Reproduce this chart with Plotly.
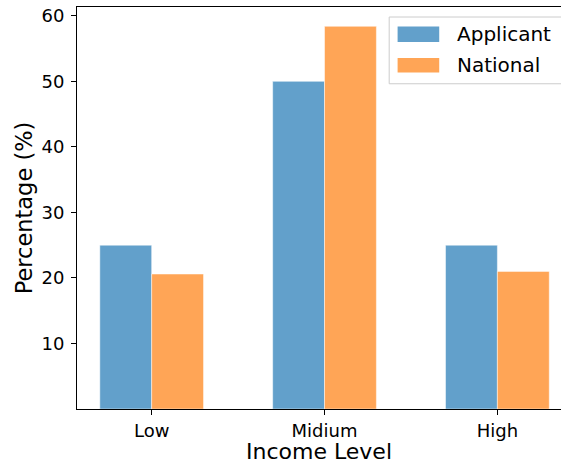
import plotly.graph_objects as go

categories = ["Low", "Midium", "High"]
applicant = [25.0, 50.0, 25.0]
national = [20.6, 58.4, 21.0]
series_names = ["Applicant", "National"]
y_ticks = [10, 20, 30, 40, 50, 60]

blue = "rgb(98,160,203)"
orange = "rgb(255,165,86)"
FONT = "DejaVu Sans"

W, H = 561, 464
ML, MT, MB, MR = 77.3, 7.3, 55, 0
pw = W - ML - MR
ph = H - MT - MB

def px(x):
    return (x - ML) / pw

def py(y):
    return (H - MB - y) / ph

xs = list(range(len(categories)))
fig = go.Figure()
fig.add_trace(go.Bar(x=xs, y=applicant, name=series_names[0], marker_color=blue,
                     marker_line=dict(color="rgba(255,255,255,0.6)", width=0.8),
                     showlegend=False))
fig.add_trace(go.Bar(x=xs, y=national, name=series_names[1], marker_color=orange,
                     marker_line=dict(color="rgba(255,255,255,0.6)", width=0.8),
                     showlegend=False))

# custom legend
shapes = []
x0, x1, y0, y1 = px(389.3), px(575), py(17.3), py(84)
shapes.append(dict(type="rect", xref="paper", yref="paper", x0=x0, x1=x1, y0=y1, y1=y0,
                   line=dict(color="rgb(204,204,204)", width=1), fillcolor="rgba(255,255,255,0.8)",
                   layer="above"))
annotations = []
rows = [(26.7, 42.3, blue), (58.3, 72.7, orange)]
for (t, b, col), name in zip(rows, series_names):
    shapes.append(dict(type="rect", xref="paper", yref="paper", x0=px(397.7), x1=px(439.3),
                       y0=py(b), y1=py(t), fillcolor=col, line=dict(width=0), layer="above"))
    annotations.append(dict(xref="paper", yref="paper", x=px(455.5), y=py((t + b) / 2),
                            text=name, showarrow=False, xanchor="left", yanchor="middle",
                            font=dict(family=FONT, size=20, color="black")))

fig.update_layout(
    width=W, height=H,
    margin=dict(l=ML, r=MR, t=MT, b=MB, pad=0, autoexpand=False),
    paper_bgcolor="white", plot_bgcolor="white",
    barmode="group", bargap=0.4, bargroupgap=0,
    font=dict(family=FONT, color="black"),
    shapes=shapes, annotations=annotations,
    showlegend=False,
)
fig.update_xaxes(
    range=[-0.432, 2.368], tickmode="array", tickvals=xs, ticktext=categories,
    showgrid=False, zeroline=False, showline=True, linecolor="black", linewidth=1.1,
    mirror=True, ticks="outside", ticklen=5, tickwidth=1, tickcolor="black",
    tickfont=dict(family=FONT, size=18), automargin=False,
    title=dict(text="Income Level", font=dict(family=FONT, size=22), standoff=5),
)
fig.update_yaxes(
    range=[0, 61.35], tickmode="array", tickvals=y_ticks,
    showgrid=False, zeroline=False, showline=True, linecolor="black", linewidth=1.1,
    ticks="outside", ticklen=5, tickwidth=1, tickcolor="black", ticklabelstandoff=3,
    tickfont=dict(family=FONT, size=18), automargin=False,
    title=dict(text="Percentage (%)", font=dict(family=FONT, size=22.5), standoff=2),
)
fig.write_html("out.html", config={"displayModeBar": False, "responsive": False},
               post_script="document.body.style.margin='0';document.body.style.overflow='hidden';")
